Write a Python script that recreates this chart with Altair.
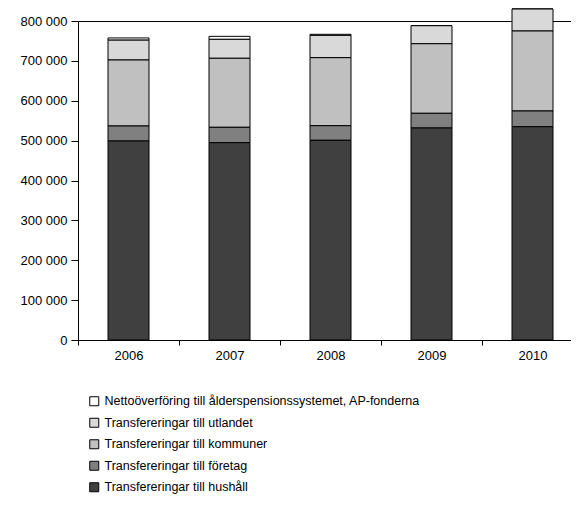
import altair as alt
import pandas as pd

years = ["2006", "2007", "2008", "2009", "2010"]
series = [
    "Nettoöverföring till ålderspensionssystemet, AP-fonderna",
    "Transfereringar till utlandet",
    "Transfereringar till kommuner",
    "Transfereringar till företag",
    "Transfereringar till hushåll",
]
hushall = [499000, 494800, 500800, 531700, 534900]
foretag = [37700, 38600, 36600, 36800, 39400]
kommuner = [165500, 173100, 170600, 174500, 200600]
utlandet = [49800, 47500, 56000, 45200, 55100]
ap = [5500, 7500, 2600, 0, 0]
colors = ["#ffffff", "#d9d9d9", "#c0c0c0", "#808080", "#404040"]
y_ticks = [0, 100000, 200000, 300000, 400000, 500000, 600000, 700000, 800000]

values_by_series = [ap, utlandet, kommuner, foretag, hushall]
rows = []
for si, (name, vals) in enumerate(zip(series, values_by_series)):
    for y, v in zip(years, vals):
        rows.append({"year": y, "serie": name, "value": v, "stack": len(series) - 1 - si})
df = pd.DataFrame(rows)

xscale = alt.Scale(domain=years, paddingInner=0, paddingOuter=0)

bars = alt.Chart(df).mark_bar(size=41, stroke="black", strokeWidth=1).encode(
    x=alt.X("year:N", title=None, sort=years, scale=xscale,
            axis=alt.Axis(labelAngle=0, tickBand="extent", tickSize=5, labelPadding=4,
                          labelFontSize=13, labelColor="black", domainColor="black",
                          tickColor="black", labelFont="Liberation Sans")),
    y=alt.Y("value:Q", title=None, stack="zero",
            scale=alt.Scale(domain=[0, 800000], nice=False),
            axis=alt.Axis(values=y_ticks, grid=False, tickSize=7, labelPadding=4,
                          labelExpr="replace(format(datum.value, ','), ',', ' ')",
                          labelFontSize=13, labelColor="black", domainColor="black",
                          tickColor="black", labelFont="Liberation Sans")),
    color=alt.Color("serie:N", scale=alt.Scale(domain=series, range=colors),
                    legend=alt.Legend(title=None, orient="none", legendX=10, legendY=374,
                                      symbolType="square", symbolSize=81,
                                      symbolStrokeColor="black", symbolStrokeWidth=1,
                                      labelFontSize=12.5, labelFont="Liberation Sans",
                                      labelColor="black", rowPadding=7.5, labelOffset=4,
                                      labelLimit=500)),
    order=alt.Order("stack:Q", sort="ascending"),
)

topline = alt.Chart(df).mark_bar(opacity=0).encode(
    x=alt.X("year:N", title=None, sort=years, scale=xscale,
            axis=alt.Axis(orient="top", labels=False, ticks=False, domainColor="black")),
)

chart = alt.layer(bars, topline).resolve_axis(x="independent").properties(
    width=505, height=319,
    padding={"left": 70, "top": 13, "right": -12, "bottom": 156},
    autosize=alt.AutoSizeParams(type="none"),
).configure_view(stroke=None)

chart.save("out.html", embed_options={"renderer": "svg", "actions": False})
